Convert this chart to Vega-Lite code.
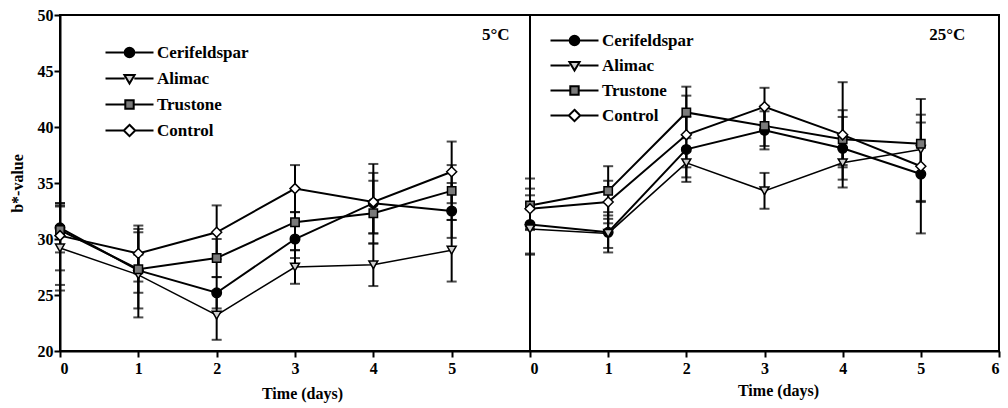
{
  "$schema": "https://vega.github.io/schema/vega-lite/v6.json",
  "padding": {"left": 8, "top": 6, "right": 2, "bottom": 2},
  "bounds": "flush",
  "background": "white",
  "config": {
    "view": {"stroke": "black", "strokeWidth": 2},
    "font": "Liberation Serif",
    "axis": {"grid": false, "domainColor": "black", "domainWidth": 2, "tickColor": "black", "tickWidth": 2, "tickSize": 6, "format": "d",
      "labelFont": "Liberation Serif", "labelFontSize": 16, "labelFontWeight": "bold", "labelColor": "black",
      "titleFont": "Liberation Serif", "titleFontSize": 16, "titleFontWeight": "bold", "titleColor": "black"},
    "legend": {"labelFont": "Liberation Serif", "labelFontSize": 17, "labelFontWeight": "bold", "labelColor": "black"},
    "concat": {"spacing": 0}
  },
  "data": {"values": [
    {"t": "5°C", "s": "Cerifeldspar", "d": 0, "v": 31.0, "lo": 28.8, "hi": 33.2},
    {"t": "5°C", "s": "Cerifeldspar", "d": 1, "v": 27.2, "lo": 25.2, "hi": 30.6},
    {"t": "5°C", "s": "Cerifeldspar", "d": 2, "v": 25.2, "lo": 23.8, "hi": 26.6},
    {"t": "5°C", "s": "Cerifeldspar", "d": 3, "v": 30.0, "lo": 28.3, "hi": 31.7},
    {"t": "5°C", "s": "Cerifeldspar", "d": 4, "v": 33.2, "lo": 30.5, "hi": 35.9},
    {"t": "5°C", "s": "Cerifeldspar", "d": 5, "v": 32.5, "lo": 30.1, "hi": 35.0},
    {"t": "5°C", "s": "Alimac", "d": 0, "v": 29.2, "lo": 25.4, "hi": 33.0},
    {"t": "5°C", "s": "Alimac", "d": 1, "v": 26.8, "lo": 23.0, "hi": 28.6},
    {"t": "5°C", "s": "Alimac", "d": 2, "v": 23.2, "lo": 21.0, "hi": 25.4},
    {"t": "5°C", "s": "Alimac", "d": 3, "v": 27.5, "lo": 26.0, "hi": 29.0},
    {"t": "5°C", "s": "Alimac", "d": 4, "v": 27.7, "lo": 25.8, "hi": 29.6},
    {"t": "5°C", "s": "Alimac", "d": 5, "v": 29.0, "lo": 26.2, "hi": 31.7},
    {"t": "5°C", "s": "Trustone", "d": 0, "v": 30.8, "lo": 27.2, "hi": 32.9},
    {"t": "5°C", "s": "Trustone", "d": 1, "v": 27.3, "lo": 23.8, "hi": 30.9},
    {"t": "5°C", "s": "Trustone", "d": 2, "v": 28.3, "lo": 26.6, "hi": 30.0},
    {"t": "5°C", "s": "Trustone", "d": 3, "v": 31.5, "lo": 29.0, "hi": 32.4},
    {"t": "5°C", "s": "Trustone", "d": 4, "v": 32.3, "lo": 29.6, "hi": 35.2},
    {"t": "5°C", "s": "Trustone", "d": 5, "v": 34.3, "lo": 31.7, "hi": 36.6},
    {"t": "5°C", "s": "Control", "d": 0, "v": 30.3, "lo": 25.9, "hi": 33.2},
    {"t": "5°C", "s": "Control", "d": 1, "v": 28.7, "lo": 26.2, "hi": 31.2},
    {"t": "5°C", "s": "Control", "d": 2, "v": 30.6, "lo": 28.2, "hi": 33.0},
    {"t": "5°C", "s": "Control", "d": 3, "v": 34.5, "lo": 32.4, "hi": 36.6},
    {"t": "5°C", "s": "Control", "d": 4, "v": 33.3, "lo": 30.5, "hi": 36.7},
    {"t": "5°C", "s": "Control", "d": 5, "v": 36.0, "lo": 33.2, "hi": 38.7},
    {"t": "25°C", "s": "Cerifeldspar", "d": 0, "v": 31.3, "lo": 28.7, "hi": 33.9},
    {"t": "25°C", "s": "Cerifeldspar", "d": 1, "v": 30.6, "lo": 28.8, "hi": 32.4},
    {"t": "25°C", "s": "Cerifeldspar", "d": 2, "v": 38.0, "lo": 35.1, "hi": 40.9},
    {"t": "25°C", "s": "Cerifeldspar", "d": 3, "v": 39.7, "lo": 38.0, "hi": 41.4},
    {"t": "25°C", "s": "Cerifeldspar", "d": 4, "v": 38.1, "lo": 35.3, "hi": 40.9},
    {"t": "25°C", "s": "Cerifeldspar", "d": 5, "v": 35.8, "lo": 33.3, "hi": 38.3},
    {"t": "25°C", "s": "Alimac", "d": 0, "v": 30.9, "lo": 28.6, "hi": 33.2},
    {"t": "25°C", "s": "Alimac", "d": 1, "v": 30.5, "lo": 29.2, "hi": 31.8},
    {"t": "25°C", "s": "Alimac", "d": 2, "v": 36.8, "lo": 35.5, "hi": 38.1},
    {"t": "25°C", "s": "Alimac", "d": 3, "v": 34.3, "lo": 32.7, "hi": 35.9},
    {"t": "25°C", "s": "Alimac", "d": 4, "v": 36.8, "lo": 34.6, "hi": 39.0},
    {"t": "25°C", "s": "Alimac", "d": 5, "v": 38.0, "lo": 33.4, "hi": 42.5},
    {"t": "25°C", "s": "Trustone", "d": 0, "v": 33.0, "lo": 30.8, "hi": 35.4},
    {"t": "25°C", "s": "Trustone", "d": 1, "v": 34.3, "lo": 32.1, "hi": 36.5},
    {"t": "25°C", "s": "Trustone", "d": 2, "v": 41.3, "lo": 39.0, "hi": 43.6},
    {"t": "25°C", "s": "Trustone", "d": 3, "v": 40.1, "lo": 38.3, "hi": 41.9},
    {"t": "25°C", "s": "Trustone", "d": 4, "v": 38.9, "lo": 36.4, "hi": 41.5},
    {"t": "25°C", "s": "Trustone", "d": 5, "v": 38.5, "lo": 35.9, "hi": 41.1},
    {"t": "25°C", "s": "Control", "d": 0, "v": 32.7, "lo": 30.9, "hi": 34.5},
    {"t": "25°C", "s": "Control", "d": 1, "v": 33.3, "lo": 31.4, "hi": 35.2},
    {"t": "25°C", "s": "Control", "d": 2, "v": 39.3, "lo": 36.4, "hi": 42.8},
    {"t": "25°C", "s": "Control", "d": 3, "v": 41.8, "lo": 40.1, "hi": 43.5},
    {"t": "25°C", "s": "Control", "d": 4, "v": 39.3, "lo": 36.6, "hi": 44.0},
    {"t": "25°C", "s": "Control", "d": 5, "v": 36.5, "lo": 30.5, "hi": 40.4}
  ]},
  "resolve": {"scale": {"opacity": "independent"}, "legend": {"opacity": "independent"}},
  "hconcat": [
    {
      "width": 470, "height": 336,
      "transform": [{"filter": "datum.t === '5°C'"}],
      "layer": [
        {
          "mark": {"type": "errorbar", "color": "black", "thickness": 2, "ticks": {"size": 10, "thickness": 2, "color": "black"}},
          "encoding": {
            "x": {"field": "d", "type": "quantitative", "scale": {"domain": [0, 6], "nice": false}, "axis": {"values": [0, 1, 2, 3, 4, 5], "title": "Time (days)", "titleX": 242, "titleY": 42, "titleBaseline": "middle", "labelPadding": 3}},
            "y": {"field": "lo", "type": "quantitative", "scale": {"domain": [20, 50], "nice": false}, "axis": {"values": [20, 25, 30, 35, 40, 45, 50], "title": "b*-value", "titleFontSize": 16, "titlePadding": 12, "labelPadding": 1}},
            "y2": {"field": "hi"},
            "detail": {"field": "s"}
          }
        },
        {
          "transform": [{"filter": "datum.s !== 'Alimac'"}],
          "mark": {"type": "line", "color": "black", "strokeWidth": 2},
          "encoding": {
            "x": {"field": "d", "type": "quantitative"},
            "y": {"field": "v", "type": "quantitative"},
            "detail": {"field": "s"},
            "opacity": {"field": "s", "type": "nominal", "scale": {"type": "ordinal", "domain": ["Cerifeldspar", "Alimac", "Trustone", "Control"], "range": [1, 1, 1, 1]},
              "legend": {"title": null, "orient": "none", "legendX": 43, "legendY": 29, "symbolSize": 144, "symbolOffset": 18, "labelOffset": 19, "rowPadding": 7,
                "labelFont": "Liberation Serif", "labelFontSize": 17, "labelFontWeight": "bold", "labelColor": "black",
                "symbolType": {"expr": "datum.value === 'Cerifeldspar' ? 'M-4,0H-0.8M0.8,0H4M-0.8,0A0.8,0.8 0 1,0 0.8,0A0.8,0.8 0 1,0 -0.8,0Z' : datum.value === 'Alimac' ? 'M-4,0H-0.8M0.8,0H4M-0.85,-0.6L0.85,-0.6L0,0.85Z' : datum.value === 'Trustone' ? 'M-4,0H-0.7M0.7,0H4M-0.7,-0.7H0.7V0.7H-0.7Z' : 'M-4,0H-0.95M0.95,0H4M0,-0.95L0.95,0L0,0.95L-0.95,0Z'"},
                "symbolFillColor": {"expr": "datum.value === 'Cerifeldspar' ? 'black' : datum.value === 'Alimac' ? '#d0d0d0' : datum.value === 'Trustone' ? '#7a7a7a' : 'white'"},
                "symbolStrokeColor": "black", "symbolStrokeWidth": 2}
            }
          }
        },
        {
          "transform": [{"filter": "datum.s === 'Alimac'"}],
          "mark": {"type": "line", "color": "black", "strokeWidth": 1.5},
          "encoding": {"x": {"field": "d", "type": "quantitative"}, "y": {"field": "v", "type": "quantitative"}}
        },
        {
          "transform": [{"filter": "datum.s === 'Cerifeldspar'"}],
          "mark": {"type": "point", "shape": "circle", "filled": true, "fill": "black", "stroke": "black", "strokeWidth": 1.5, "size": 90, "opacity": 1},
          "encoding": {"x": {"field": "d", "type": "quantitative"}, "y": {"field": "v", "type": "quantitative"}}
        },
        {
          "transform": [{"filter": "datum.s === 'Alimac'"}],
          "mark": {"type": "point", "shape": "triangle-down", "filled": true, "fill": "#d0d0d0", "stroke": "black", "strokeWidth": 1.5, "size": 80, "opacity": 1},
          "encoding": {"x": {"field": "d", "type": "quantitative"}, "y": {"field": "v", "type": "quantitative"}}
        },
        {
          "transform": [{"filter": "datum.s === 'Trustone'"}],
          "mark": {"type": "point", "shape": "square", "filled": true, "fill": "#7a7a7a", "stroke": "black", "strokeWidth": 1.5, "size": 70, "opacity": 1},
          "encoding": {"x": {"field": "d", "type": "quantitative"}, "y": {"field": "v", "type": "quantitative"}}
        },
        {
          "transform": [{"filter": "datum.s === 'Control'"}],
          "mark": {"type": "point", "shape": "diamond", "filled": true, "fill": "white", "stroke": "black", "strokeWidth": 1.5, "size": 100, "opacity": 1},
          "encoding": {"x": {"field": "d", "type": "quantitative"}, "y": {"field": "v", "type": "quantitative"}}
        },
        {
          "data": {"values": [{"label": "5°C"}]},
          "mark": {"type": "text", "align": "right", "baseline": "middle", "font": "Liberation Serif", "fontSize": 17, "fontWeight": "bold", "color": "black"},
          "encoding": {"x": {"datum": 5.74, "type": "quantitative"}, "y": {"datum": 48.2, "type": "quantitative"}, "text": {"field": "label"}}
        }
      ]
    },
    {
      "width": 469, "height": 336,
      "transform": [{"filter": "datum.t === '25°C'"}],
      "layer": [
        {
          "mark": {"type": "errorbar", "color": "black", "thickness": 2, "ticks": {"size": 10, "thickness": 2, "color": "black"}},
          "encoding": {
            "x": {"field": "d", "type": "quantitative", "scale": {"domain": [0, 6], "nice": false}, "axis": {"values": [0, 1, 2, 3, 4, 5, 6], "title": "Time (days)", "titleX": 248, "titleY": 39, "titleBaseline": "middle", "labelPadding": 3}},
            "y": {"field": "lo", "type": "quantitative", "scale": {"domain": [20, 50], "nice": false}, "axis": null},
            "y2": {"field": "hi"},
            "detail": {"field": "s"}
          }
        },
        {
          "transform": [{"filter": "datum.s !== 'Alimac'"}],
          "mark": {"type": "line", "color": "black", "strokeWidth": 2},
          "encoding": {
            "x": {"field": "d", "type": "quantitative"},
            "y": {"field": "v", "type": "quantitative"},
            "detail": {"field": "s"},
            "opacity": {"field": "s", "type": "nominal", "scale": {"type": "ordinal", "domain": ["Cerifeldspar", "Alimac", "Trustone", "Control"], "range": [1, 1, 1, 1]},
              "legend": {"title": null, "orient": "none", "legendX": 18, "legendY": 17, "symbolSize": 144, "symbolOffset": 18, "labelOffset": 19, "rowPadding": 6,
                "labelFont": "Liberation Serif", "labelFontSize": 17, "labelFontWeight": "bold", "labelColor": "black",
                "symbolType": {"expr": "datum.value === 'Cerifeldspar' ? 'M-4,0H-0.8M0.8,0H4M-0.8,0A0.8,0.8 0 1,0 0.8,0A0.8,0.8 0 1,0 -0.8,0Z' : datum.value === 'Alimac' ? 'M-4,0H-0.8M0.8,0H4M-0.85,-0.6L0.85,-0.6L0,0.85Z' : datum.value === 'Trustone' ? 'M-4,0H-0.7M0.7,0H4M-0.7,-0.7H0.7V0.7H-0.7Z' : 'M-4,0H-0.95M0.95,0H4M0,-0.95L0.95,0L0,0.95L-0.95,0Z'"},
                "symbolFillColor": {"expr": "datum.value === 'Cerifeldspar' ? 'black' : datum.value === 'Alimac' ? '#d0d0d0' : datum.value === 'Trustone' ? '#7a7a7a' : 'white'"},
                "symbolStrokeColor": "black", "symbolStrokeWidth": 2}
            }
          }
        },
        {
          "transform": [{"filter": "datum.s === 'Alimac'"}],
          "mark": {"type": "line", "color": "black", "strokeWidth": 1.5},
          "encoding": {"x": {"field": "d", "type": "quantitative"}, "y": {"field": "v", "type": "quantitative"}}
        },
        {
          "transform": [{"filter": "datum.s === 'Cerifeldspar'"}],
          "mark": {"type": "point", "shape": "circle", "filled": true, "fill": "black", "stroke": "black", "strokeWidth": 1.5, "size": 90, "opacity": 1},
          "encoding": {"x": {"field": "d", "type": "quantitative"}, "y": {"field": "v", "type": "quantitative"}}
        },
        {
          "transform": [{"filter": "datum.s === 'Alimac'"}],
          "mark": {"type": "point", "shape": "triangle-down", "filled": true, "fill": "#d0d0d0", "stroke": "black", "strokeWidth": 1.5, "size": 80, "opacity": 1},
          "encoding": {"x": {"field": "d", "type": "quantitative"}, "y": {"field": "v", "type": "quantitative"}}
        },
        {
          "transform": [{"filter": "datum.s === 'Trustone'"}],
          "mark": {"type": "point", "shape": "square", "filled": true, "fill": "#7a7a7a", "stroke": "black", "strokeWidth": 1.5, "size": 70, "opacity": 1},
          "encoding": {"x": {"field": "d", "type": "quantitative"}, "y": {"field": "v", "type": "quantitative"}}
        },
        {
          "transform": [{"filter": "datum.s === 'Control'"}],
          "mark": {"type": "point", "shape": "diamond", "filled": true, "fill": "white", "stroke": "black", "strokeWidth": 1.5, "size": 100, "opacity": 1},
          "encoding": {"x": {"field": "d", "type": "quantitative"}, "y": {"field": "v", "type": "quantitative"}}
        },
        {
          "data": {"values": [{"label": "25°C"}]},
          "mark": {"type": "text", "align": "right", "baseline": "middle", "font": "Liberation Serif", "fontSize": 17, "fontWeight": "bold", "color": "black"},
          "encoding": {"x": {"datum": 5.57, "type": "quantitative"}, "y": {"datum": 48.2, "type": "quantitative"}, "text": {"field": "label"}}
        }
      ]
    }
  ]
}
